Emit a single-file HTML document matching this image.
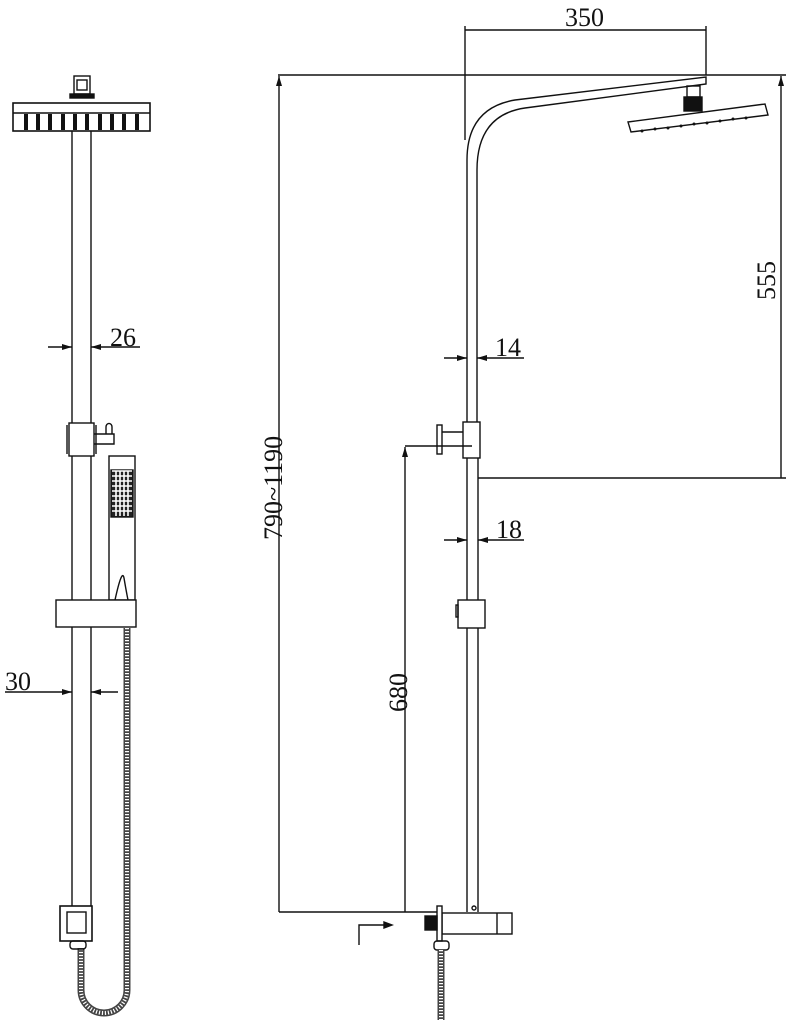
<!DOCTYPE html>
<html><head><style>html,body{margin:0;padding:0;background:#fff}svg{display:block}</style></head>
<body>
<svg width="793" height="1024" viewBox="0 0 793 1024" xmlns="http://www.w3.org/2000/svg" font-family="Liberation Serif, serif" font-size="26" fill="none" stroke="#111" stroke-width="1.4">
<defs><marker id="a" viewBox="0 0 10 6" refX="10" refY="3" markerWidth="10" markerHeight="6" orient="auto" markerUnits="userSpaceOnUse"><path d="M0,0L10,3L0,6z" fill="#111" stroke="none"/></marker></defs>
<!-- LEFT VIEW -->
<rect x="74" y="76" width="16" height="18"/><rect x="77" y="80" width="10" height="10"/>
<rect x="70" y="94" width="24" height="4" fill="#111"/>
<rect x="13" y="103" width="137" height="28" stroke-width="1.6"/><line x1="13" y1="113" x2="150" y2="113"/>
<g fill="#111" stroke="none">
<rect x="24" y="114" width="4" height="16"/><rect x="36" y="114" width="4" height="16"/><rect x="48" y="114" width="4" height="16"/><rect x="61" y="114" width="4" height="16"/><rect x="73" y="114" width="4" height="16"/><rect x="85" y="114" width="4" height="16"/><rect x="98" y="114" width="4" height="16"/><rect x="110" y="114" width="4" height="16"/><rect x="122" y="114" width="4" height="16"/><rect x="135" y="114" width="4" height="16"/>
</g>
<line x1="72" y1="131" x2="72" y2="906"/><line x1="91" y1="131" x2="91" y2="906"/>
<rect x="69" y="423" width="25" height="33" fill="#fff"/><line x1="67" y1="425" x2="67" y2="454"/><line x1="96" y1="425" x2="96" y2="454"/>
<path d="M94,434h20v10h-20M106,434v-7a2.5,3 0 0 1 6,0v7"/>
<rect x="109" y="456" width="26" height="144"/>
<rect x="111" y="470" width="22" height="47" fill="#222"/>
<path d="M112,471h20M112,476h20M112,481h20M112,486h20M112,491h20M112,496h20M112,501h20M112,506h20M112,511h20M116,471v45M120,471v45M124,471v45M128,471v45" stroke="#fff" stroke-width="1.6"/>
<path d="M115,600 Q122,568 124,578 Q126,590 128,600"/>
<rect x="56" y="600" width="80" height="27" fill="#fff"/>
<!-- hose -->
<path d="M127,628 V990 A23,23 0 0 1 81,990 V948" stroke="#444" stroke-width="7"/>
<path d="M127,628 V990 A23,23 0 0 1 81,990 V948" stroke="#fff" stroke-width="4" stroke-dasharray="1.2 1.8"/>
<rect x="60" y="906" width="32" height="35" stroke-width="1.6" fill="#fff"/><rect x="67" y="912" width="19" height="21"/>
<rect x="70" y="941" width="16" height="8" rx="3"/>
<!-- dims left -->
<line x1="48" y1="347" x2="72" y2="347" marker-end="url(#a)"/><line x1="140" y1="347" x2="91" y2="347" marker-end="url(#a)"/>
<text x="110" y="346" fill="#111" stroke="none">26</text>
<line x1="5" y1="692" x2="72" y2="692" marker-end="url(#a)"/><line x1="118" y1="692" x2="91" y2="692" marker-end="url(#a)"/>
<text x="5" y="690" fill="#111" stroke="none">30</text>
<!-- RIGHT VIEW -->
<line x1="465" y1="26" x2="465" y2="140"/><line x1="706" y1="26" x2="706" y2="75"/>
<line x1="465" y1="30" x2="706" y2="30"/>
<text x="565" y="26" fill="#111" stroke="none">350</text>
<line x1="278" y1="75" x2="786" y2="75"/>
<path d="M467,425 V160 Q467,108 515,100 L706,77 V84 L525,108 Q477,115 477,170 V425"/>
<rect x="687" y="86" width="13" height="11"/><rect x="684" y="97" width="18" height="14" fill="#111"/>
<path d="M628,122 L765,104 L768,115 L631,132 Z"/>
<g fill="#111" stroke="none"><circle cx="642" cy="131" r="1.5"/><circle cx="655" cy="129" r="1.5"/><circle cx="668" cy="128" r="1.5"/><circle cx="681" cy="126" r="1.5"/><circle cx="694" cy="124" r="1.5"/><circle cx="707" cy="123" r="1.5"/><circle cx="720" cy="121" r="1.5"/><circle cx="733" cy="119" r="1.5"/><circle cx="746" cy="118" r="1.5"/></g>
<line x1="781" y1="478" x2="781" y2="76" marker-end="url(#a)"/>
<line x1="478" y1="478" x2="786" y2="478"/>
<text transform="translate(775,300) rotate(-90)" fill="#111" stroke="none">555</text>
<line x1="279" y1="912" x2="279" y2="76" marker-end="url(#a)"/>
<text transform="translate(282,540) rotate(-90)" fill="#111" stroke="none">790~1190</text>
<line x1="444" y1="358" x2="467" y2="358" marker-end="url(#a)"/><line x1="524" y1="358" x2="477" y2="358" marker-end="url(#a)"/>
<text x="495" y="356" fill="#111" stroke="none">14</text>
<rect x="463" y="422" width="17" height="36" fill="#fff"/>
<line x1="442" y1="432" x2="463" y2="432"/><rect x="437" y="425" width="5" height="29"/>
<line x1="405" y1="446" x2="472" y2="446"/>
<line x1="405" y1="912" x2="405" y2="447" marker-end="url(#a)"/>
<text transform="translate(407,712) rotate(-90)" fill="#111" stroke="none">680</text>
<line x1="467" y1="458" x2="467" y2="600"/><line x1="478" y1="458" x2="478" y2="600"/>
<line x1="444" y1="540" x2="467" y2="540" marker-end="url(#a)"/><line x1="524" y1="540" x2="478" y2="540" marker-end="url(#a)"/>
<text x="496" y="538" fill="#111" stroke="none">18</text>
<rect x="458" y="600" width="27" height="28"/><rect x="456" y="605" width="2" height="12"/>
<line x1="467" y1="628" x2="467" y2="912"/><line x1="478" y1="628" x2="478" y2="912"/>
<line x1="279" y1="912" x2="440" y2="912"/>
<circle cx="474" cy="908" r="2"/>
<rect x="442" y="913" width="70" height="21"/><line x1="497" y1="913" x2="497" y2="934"/>
<rect x="437" y="906" width="5" height="35" fill="#fff"/>
<rect x="425" y="916" width="12" height="14" fill="#111"/>
<path d="M359,945 V925 H388"/><path d="M384,922 L392,925 L384,928Z" fill="#111"/>
<rect x="434" y="941" width="15" height="9" rx="3"/>
<path d="M441,950 V1020" stroke="#444" stroke-width="7"/>
<path d="M441,950 V1020" stroke="#fff" stroke-width="4" stroke-dasharray="1.2 1.8"/>
</svg>
</body></html>
